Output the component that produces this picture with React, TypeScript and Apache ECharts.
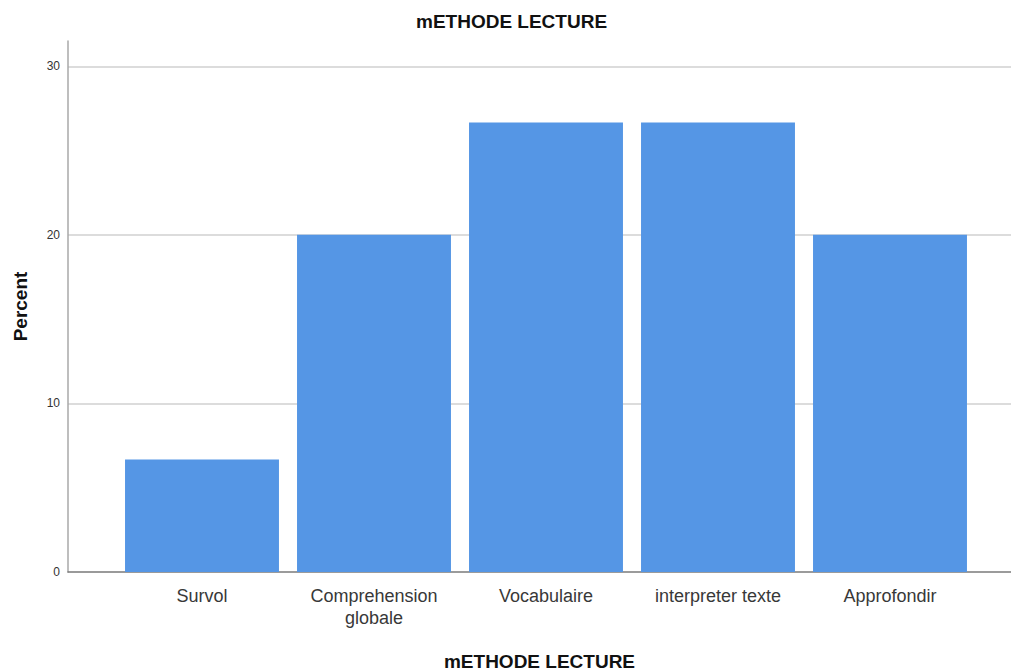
import React, { useEffect, useRef } from "react";
import * as echarts from "echarts";

const categories = ["Survol", "Comprehension\nglobale", "Vocabulaire", "interpreter texte", "Approfondir"];
const percentValues = [6.67, 20, 26.67, 26.67, 20];
const chartTitle = "mETHODE LECTURE";
const xAxisName = "mETHODE LECTURE";
const yAxisName = "Percent";

export default function App() {
  const ref = useRef<HTMLDivElement>(null);
  useEffect(() => {
    if (!ref.current) return;
    const chart = echarts.init(ref.current, null, { renderer: "svg" });
    const font = "'Liberation Sans', Arial, sans-serif";
    chart.setOption({
      animation: false,
      backgroundColor: "#ffffff",
      title: {
        text: chartTitle,
        left: 411,
        top: 7,
        textStyle: { fontFamily: font, fontSize: 19, fontWeight: "bold", color: "#111" },
      },
      grid: [
        { left: 68, right: 0, top: 41, bottom: 100, containLabel: false, outerBoundsMode: "none" },
        { left: 116, right: 35, top: 41, bottom: 100, containLabel: false, outerBoundsMode: "none" },
      ],
      xAxis: [
        {
          type: "value",
          gridIndex: 0,
          min: 0,
          max: 1,
          axisLabel: { show: false },
          axisTick: { show: false },
          splitLine: { show: false },
          axisLine: { show: true, lineStyle: { color: "#7a7a7a", width: 1.5 } },
          name: xAxisName,
          nameLocation: "middle",
          nameGap: 80,
          nameTextStyle: { fontFamily: font, fontSize: 19, fontWeight: "bold", color: "#111" },
        },
        {
          type: "category",
          gridIndex: 1,
          data: categories,
          axisLine: { show: false },
          axisTick: { show: false },
          axisLabel: {
            fontFamily: font,
            fontSize: 18,
            color: "#383838",
            margin: 13,
            lineHeight: 22,
            interval: 0,
          },
        },
      ],
      yAxis: [
        {
          type: "value",
          gridIndex: 0,
          min: 0,
          max: 31.5,
          interval: 10,
          name: yAxisName,
          nameLocation: "middle",
          nameGap: 38,
          nameTextStyle: { fontFamily: font, fontSize: 19, fontWeight: "bold", color: "#111" },
          axisLine: { show: true, lineStyle: { color: "#a8a8a8", width: 1.5 } },
          axisTick: { show: false },
          axisLabel: {
            fontFamily: font,
            fontSize: 12,
            color: "#333",
            margin: 8,
            showMaxLabel: false,
            formatter: (v: number) => (v % 10 === 0 ? String(v) : ""),
          },
          splitLine: {
            show: true,
            showMinLine: false,
            showMaxLine: false,
            lineStyle: { color: "#d0d0d0", width: 1.5 },
          },
        },
        {
          type: "value",
          gridIndex: 1,
          min: 0,
          max: 31.5,
          interval: 10,
          show: false,
          splitLine: { show: false },
        },
      ],
      series: [
        {
          type: "bar",
          xAxisIndex: 1,
          yAxisIndex: 1,
          data: percentValues,
          barCategoryGap: "10.5%",
          itemStyle: { color: "#5596e5" },
        },
      ],
    });
    return () => chart.dispose();
  }, []);
  return (
    <div
      ref={ref}
      style={{ position: "absolute", left: 0, top: 0, width: 1011, height: 672 }}
    />
  );
}
